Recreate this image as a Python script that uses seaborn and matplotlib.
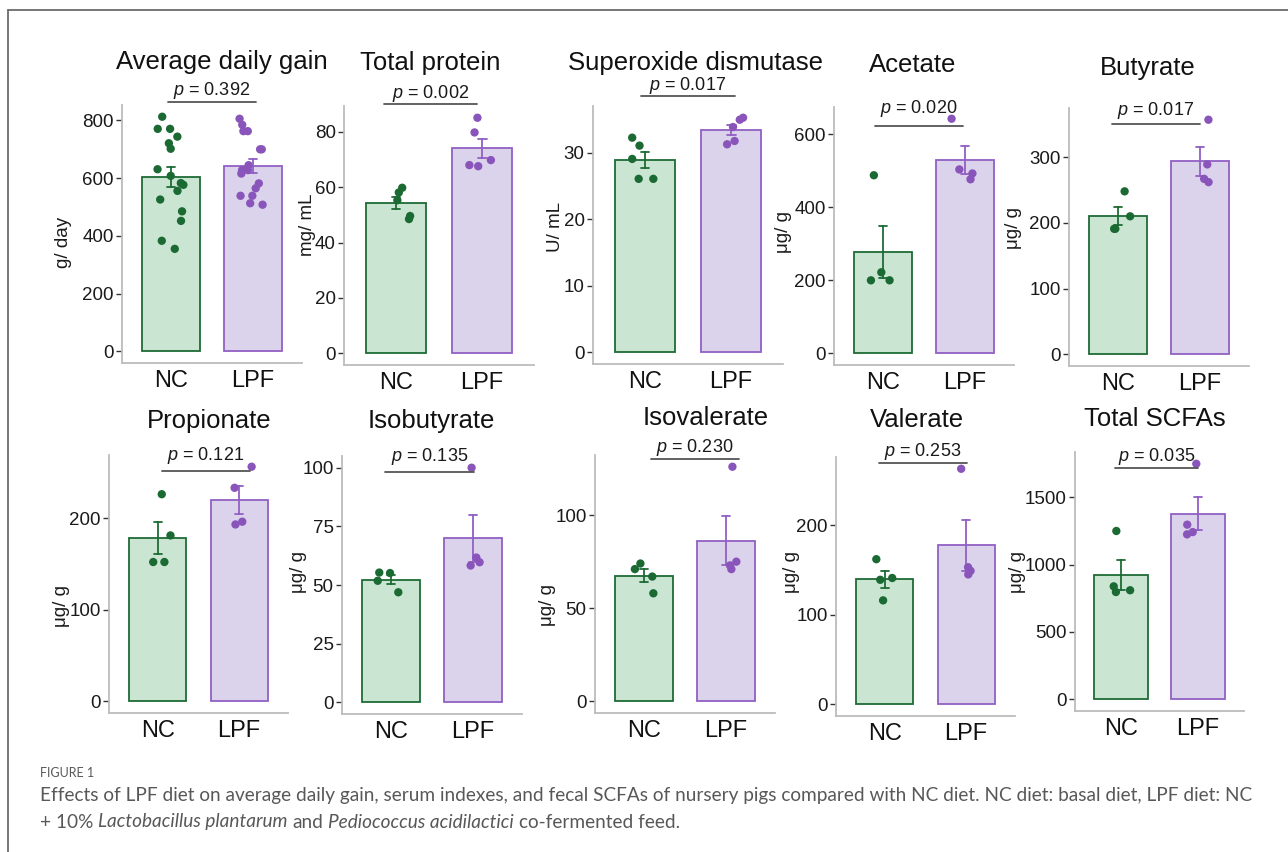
import numpy as np
import pandas as pd
import matplotlib
matplotlib.use("Agg")
import matplotlib.pyplot as plt
import matplotlib.transforms as mtransforms
from matplotlib.lines import Line2D
from matplotlib.ticker import StrMethodFormatter
import seaborn as sns

# ---------------- data ----------------
groups = ["NC", "LPF"]

titles = ["Average daily gain", "Total protein", "Superoxide dismutase", "Acetate", "Butyrate",
          "Propionate", "Isobutyrate", "Isovalerate", "Valerate", "Total SCFAs"]
units = ["g/ day", "mg/ mL", "U/ mL", "μg/ g", "μg/ g",
         "μg/ g", "μg/ g", "μg/ g", "μg/ g", "μg/ g"]
p_values = ["0.392", "0.002", "0.017", "0.020", "0.017",
            "0.121", "0.135", "0.230", "0.253", "0.035"]
tick_steps = [200, 20, 10, 200, 100, 100, 25, 50, 100, 500]

adg_nc = [813, 771, 771, 744, 721, 702, 631, 608, 577, 583, 556, 526, 485, 452, 383, 355]
adg_lpf = [806, 785, 763, 763, 700, 700, 645, 628, 628, 616, 582, 565, 539, 539, 513, 508]
tp_nc = [59.8, 58.1, 55.3, 48.5, 49.6]
tp_lpf = [85.1, 79.8, 69.8, 68.0, 67.6]
sod_nc = [32.3, 31.1, 29.1, 26.1, 26.1]
sod_lpf = [35.3, 35.0, 33.9, 31.8, 31.3]
acetate_nc = [488, 222, 200, 200]
acetate_lpf = [643, 493, 504, 477]
butyrate_nc = [248, 210, 191, 191]
butyrate_lpf = [357, 289, 267, 262]
propionate_nc = [226, 181, 152, 152]
propionate_lpf = [256, 233, 196, 193]
isobutyrate_nc = [55.1, 55.3, 51.8, 46.9]
isobutyrate_lpf = [100, 61.7, 59.7, 58.3]
isovalerate_nc = [74, 71, 67, 58]
isovalerate_lpf = [126, 75, 73, 71]
valerate_nc = [162, 141, 139, 116]
valerate_lpf = [263, 153, 149, 145]
scfa_nc = [1249, 838, 809, 796]
scfa_lpf = [1748, 1296, 1241, 1224]

panel_values = [
    (adg_nc, adg_lpf), (tp_nc, tp_lpf), (sod_nc, sod_lpf),
    (acetate_nc, acetate_lpf), (butyrate_nc, butyrate_lpf),
    (propionate_nc, propionate_lpf), (isobutyrate_nc, isobutyrate_lpf),
    (isovalerate_nc, isovalerate_lpf), (valerate_nc, valerate_lpf),
    (scfa_nc, scfa_lpf),
]

caption_head = "FIGURE 1"
caption_line1 = ("Effects of LPF diet on average daily gain, serum indexes, and fecal SCFAs of "
                 "nursery pigs compared with NC diet. NC diet: basal diet, LPF diet: NC")
caption_line2 = [("+ 10%", "normal"), ("Lactobacillus plantarum", "italic"), ("and", "normal"),
                 ("Pediococcus acidilactici", "italic"), ("co-fermented feed.", "normal")]

# ---------------- style ----------------
sns.set_style("ticks")
plt.rcParams["font.family"] = ["Liberation Sans", "DejaVu Sans"]
plt.rcParams["mathtext.fontset"] = "custom"
plt.rcParams["mathtext.it"] = "Liberation Sans:italic"
plt.rcParams["mathtext.rm"] = "Liberation Sans"

fill_colors = {"NC": "#cae6d3", "LPF": "#dbd2ec"}
edge_colors = {"NC": "#1f6b36", "LPF": "#9160c4"}
point_colors = {"NC": "#1b6a33", "LPF": "#8a55bb"}

W, H = 1288, 852
fig = plt.figure(figsize=(W / 100, H / 100), dpi=100)

# panel boxes in pixels: left, top, right, bottom
axes_px = [
    (122, 105, 302, 363), (344, 106, 534, 365), (593, 106, 783, 364),
    (834, 107, 1014, 365), (1069, 108, 1249, 366),
    (109, 455, 288, 713), (342, 456, 522, 714), (595, 455, 775, 713),
    (836, 457, 1015, 716), (1075, 452, 1244, 711),
]
title_px = [(222, 62), (430, 63), (695, 63), (913, 65), (1148, 68),
            (209, 421), (431, 421), (706, 418), (917, 420), (1155, 419)]
ylabel_px = [(63, 242), (307, 225), (555, 227), (783, 232), (1013, 228),
             (62, 606), (299, 572), (548, 605), (792, 572), (1017, 572)]
bracket_frac = [1.012, 1.008, 1.039, 0.928, 0.937, 0.939, 0.939, 0.985, 0.978, 0.937]
bracket_shift = [0.0, -0.10, 0.0, -0.06, -0.04, 0.09, -0.03, 0.12, -0.03, -0.04]
ptext_gap = [11, 10, 10, 17, 14, 15, 15, 11, 11, 12]

np.random.seed(11)

for i in range(10):
    l, t, r, b = axes_px[i]
    ax = fig.add_axes([l / W, 1 - b / H, (r - l) / W, (b - t) / H])
    nc, lpf = panel_values[i]
    df = pd.DataFrame({"group": ["NC"] * len(nc) + ["LPF"] * len(lpf),
                       "value": list(nc) + list(lpf)})

    sns.barplot(data=df, x="group", y="value", hue="group", order=groups, hue_order=groups,
                palette=fill_colors, saturation=1, errorbar="se", capsize=0.1, width=0.7,
                linewidth=1.3, err_kws={"linewidth": 1.3}, legend=False, ax=ax)
    for patch, g in zip(ax.patches, groups):
        patch.set_edgecolor(edge_colors[g])
    for line, g in zip(ax.lines, groups):
        line.set_color(edge_colors[g])

    sns.stripplot(data=df, x="group", y="value", hue="group", order=groups, hue_order=groups,
                  palette=point_colors, jitter=0.17, size=6, linewidth=0, legend=False,
                  ax=ax, zorder=4)

    top = max(max(nc), max(lpf))
    ax.set_ylim(-0.05 * top, 1.05 * top)
    ax.set_xlim(-0.6, 1.6)
    ax.set_yticks(np.arange(0, top * 1.0001, tick_steps[i]))
    ax.yaxis.set_major_formatter(StrMethodFormatter("{x:g}"))

    sns.despine(ax=ax)
    for s in ("left", "bottom"):
        ax.spines[s].set_color("#bcbcbc")
        ax.spines[s].set_linewidth(1.3)
    ax.tick_params(axis="y", length=4, width=1.0, color="#333333", labelsize=13.5,
                   pad=2, labelcolor="#1a1a1a")
    ax.tick_params(axis="x", length=0, labelsize=17, pad=5, labelcolor="#111111")
    ax.set_xlabel("")
    ax.set_ylabel(units[i], fontsize=13.5, color="#1a1a1a")
    lx, ly = ylabel_px[i]
    ax.yaxis.set_label_coords((lx - l) / (r - l), (b - ly) / (b - t))
    ax.yaxis.label.set_va("center")

    tx, ty = title_px[i]
    ax.set_title(titles[i], x=(tx - l) / (r - l), y=(b - ty) / (b - t), pad=0,
                 va="center", fontsize=18.5, color="#111111")

    # significance bar with p-value
    trans = mtransforms.blended_transform_factory(ax.transData, ax.transAxes)
    sft = bracket_shift[i]
    yb = bracket_frac[i]
    ax.add_line(Line2D([-0.04 + sft, 1.04 + sft], [yb, yb], transform=trans,
                       color="#555555", lw=1.3, clip_on=False, zorder=5))
    ax.annotate(rf"$p$ = {p_values[i]}", xy=(0.5 + sft, yb), xycoords=trans,
                xytext=(0, ptext_gap[i]), textcoords="offset pixels",
                ha="center", va="center", fontsize=13, color="#1a1a1a",
                annotation_clip=False)

# outer frame (top and left edges)
frame_kw = dict(transform=fig.transFigure, color="#6b6b6b", lw=1.3)
fig.add_artist(Line2D([8 / W, 1.0], [1 - 10 / H, 1 - 10 / H], **frame_kw))
fig.add_artist(Line2D([8 / W, 8 / W], [0.0, 1 - 10 / H], **frame_kw))

# caption
cap_font = ["Lato", "DejaVu Sans"]
cap_color = "#585858"
cap_x = 40
fig.text(cap_x / W, 1 - 773 / H, caption_head, fontsize=9, color=cap_color,
         family=cap_font, va="center")
renderer = fig.canvas.get_renderer()
line1 = fig.text(cap_x / W, 1 - 796 / H, caption_line1, fontsize=12.5, color=cap_color,
                 family=cap_font, va="center")
width1 = line1.get_window_extent(renderer).width
fs = 12.5 * 1218 / width1
line1.set_fontsize(fs)

probe_a = fig.text(0, 0, "a a", fontsize=fs, family=cap_font)
probe_b = fig.text(0, 0, "aa", fontsize=fs, family=cap_font)
space_w = probe_a.get_window_extent(renderer).width - probe_b.get_window_extent(renderer).width
probe_a.remove()
probe_b.remove()

x = cap_x
for txt, style in caption_line2:
    piece = fig.text(x / W, 1 - 822 / H, txt, fontsize=fs, color=cap_color, family=cap_font,
                     style=style, va="center")
    x += piece.get_window_extent(renderer).width + space_w

fig.savefig("out.png", dpi=100)
